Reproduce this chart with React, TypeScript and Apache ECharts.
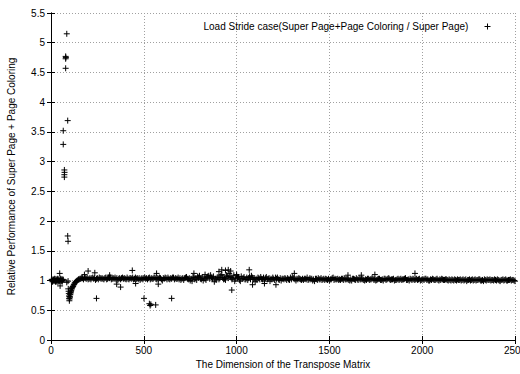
import React, { useEffect, useRef } from "react";
import * as echarts from "echarts";

const seriesName = "Load Stride case(Super Page+Page Coloring / Super Page)";
const xTitle = "The Dimension of the Transpose Matrix";
const yTitle = "Relative Performance of Super Page + Page Coloring";

const xTicks = [0, 500, 1000, 1500, 2000, 2500];
const yTicks = [0, 0.5, 1, 1.5, 2, 2.5, 3, 3.5, 4, 4.5, 5, 5.5];

// small matrices: cluster around 1
const startCluster: [number, number][] = [
  [2, 1.0], [4, 1.02], [6, 1.01], [8, 0.98], [10, 0.99], [12, 1.02], [14, 1.01], [16, 0.99],
  [18, 1.0], [20, 1.03], [22, 1.02], [24, 0.98], [26, 0.99], [28, 1.02], [30, 1.0], [32, 0.98],
  [34, 1.01], [36, 1.03], [38, 0.98], [40, 1.0], [42, 1.02], [44, 0.99], [46, 1.0], [47, 1.12],
  [49, 0.91], [50, 1.01], [52, 1.03], [54, 0.99], [56, 1.0], [58, 1.02], [60, 0.98], [62, 1.0],
  [64, 1.02], [66, 1.01], [85, 0.97], [92, 0.99],
];

// large ratios for small dimensions
const spikes: [number, number][] = [
  [85, 5.15], [79, 4.77], [80, 4.75], [79, 4.73], [79, 4.57], [90, 3.69],
  [66, 3.52], [66, 3.29], [72, 2.86], [73, 2.82], [72, 2.78], [72, 2.74],
  [90, 1.75], [92, 1.66],
];

// dip after the spikes, recovering towards 1
const dipCurve: [number, number][] = [
  [93, 0.86], [95, 0.82], [96, 0.78], [97, 0.74], [98, 0.7], [99, 0.66], [100, 0.69],
  [101, 0.73], [102, 0.72], [103, 0.77], [104, 0.76], [105, 0.8], [106, 0.79], [108, 0.82],
  [109, 0.83], [111, 0.86], [112, 0.86], [114, 0.88], [116, 0.89], [118, 0.9], [120, 0.91],
  [123, 0.93], [125, 0.94], [128, 0.96], [131, 0.97], [134, 0.98], [138, 0.99], [141, 1.0],
  [145, 1.01], [148, 1.02], [152, 1.02], [156, 1.03],
];

// dense band, sampled every 10 from 160 to 2500
const bandStart = 160;
const bandStep = 10;
const bandValues = [
  1.03, 1.04, 1.05, 1.03, 1.02, 1.04, 1.04, 1.03, 1.01, 1.04,
  1.05, 1.03, 1.03, 1.04, 1.02, 1.05, 1.05, 1.03, 1.03, 1.02,
  1.01, 1.04, 1.04, 1.03, 1.03, 1.05, 1.02, 1.04, 1.05, 1.03,
  1.03, 1.02, 1.01, 1.04, 1.04, 1.03, 1.02, 1.05, 1.04, 1.03,
  1.05, 1.02, 1.03, 1.04, 1.0, 1.03, 1.04, 1.05, 1.02, 1.03,
  1.05, 1.04, 1.03, 1.02, 1.01, 1.04, 1.04, 1.06, 1.02, 1.0,
  0.99, 1.05, 1.04, 1.07, 1.08, 1.02, 1.0, 1.03, 1.05, 1.08,
  1.09, 1.03, 0.98, 1.01, 1.06, 1.04, 1.1, 1.02, 1.01, 1.07,
  1.12, 1.05, 1.04, 0.99, 1.08, 1.06, 0.99, 1.03, 1.06, 1.02,
  1.01, 1.07, 1.08, 1.02, 0.98, 1.01, 1.04, 1.06, 1.02, 0.99,
  1.06, 1.03, 0.99, 1.02, 1.03, 1.05, 1.05, 1.01, 1.0, 1.03,
  1.04, 1.01, 1.02, 1.05, 1.06, 1.03, 1.0, 1.02, 1.03, 1.01,
  1.01, 1.03, 1.05, 1.02, 1.02, 1.0, 0.99, 1.03, 1.04, 1.02,
  1.01, 1.03, 1.03, 1.01, 1.0, 1.02, 1.05, 1.03, 1.02, 1.01,
  1.01, 1.03, 1.04, 1.02, 1.02, 1.0, 1.0, 1.03, 1.01, 1.02,
  1.04, 1.02, 1.02, 1.0, 1.01, 1.03, 1.02, 1.04, 1.01, 1.0,
  1.02, 1.03, 1.01, 1.0, 1.03, 1.02, 1.04, 1.01, 1.02, 1.0,
  1.01, 1.03, 1.02, 1.01, 1.02, 1.04, 1.01, 1.0, 1.02, 1.03,
  1.01, 1.03, 1.02, 1.0, 1.02, 1.01, 1.03, 1.02, 1.0, 1.01,
  1.02, 1.01, 1.03, 1.0, 1.01, 1.02, 1.01, 1.02, 1.0, 1.01,
  1.02, 1.0, 1.01, 1.02, 1.01, 1.0, 1.02, 1.01, 0.99, 1.01,
  1.0, 1.02, 1.01, 1.0, 1.01, 1.02, 1.0, 0.99, 1.01, 1.02,
  1.01, 1.0, 1.01, 1.02, 1.0, 1.01, 0.99, 1.01, 1.0, 1.02,
  1.0, 1.01, 1.0, 1.01, 0.99,
];

// second set of samples, every 10 from 165 to 2495
const bandStartB = 165;
const bandValuesB = [
  1.04, 1.02, 1.04, 1.05, 1.03, 1.02, 1.05, 1.04, 1.03, 1.02,
  1.04, 1.04, 1.02, 1.05, 1.03, 1.04, 1.02, 1.04, 1.05, 1.04,
  1.03, 1.02, 1.05, 1.04, 1.02, 1.03, 1.04, 1.03, 1.02, 1.05,
  1.04, 1.04, 1.03, 1.02, 1.05, 1.04, 1.04, 1.02, 1.03, 1.05,
  1.03, 1.04, 1.05, 1.02, 1.04, 1.05, 1.02, 1.03, 1.04, 1.05,
  1.02, 1.03, 1.05, 1.04, 1.03, 1.01, 1.05, 1.03, 1.04, 1.03,
  1.06, 1.02, 1.01, 1.05, 1.03, 1.06, 1.04, 1.01, 1.07, 1.03,
  1.05, 1.07, 1.03, 1.05, 1.02, 1.08, 1.05, 1.03, 1.09, 1.04,
  1.07, 1.02, 1.09, 1.03, 1.05, 1.01, 1.07, 1.04, 1.02, 1.05,
  1.04, 1.02, 1.05, 1.04, 1.03, 1.05, 1.02, 1.03, 1.05, 1.04,
  1.02, 1.04, 1.03, 1.05, 1.01, 1.03, 1.02, 1.04, 1.03, 1.02,
  1.03, 1.04, 1.01, 1.02, 1.04, 1.02, 1.03, 1.04, 1.02, 1.03,
  1.03, 1.02, 1.01, 1.04, 1.03, 1.02, 1.03, 1.01, 1.02, 1.04,
  1.02, 1.01, 1.02, 1.03, 1.02, 1.04, 1.01, 1.02, 1.03, 1.02,
  1.03, 1.01, 1.02, 1.03, 1.01, 1.02, 1.03, 1.02, 1.04, 1.01,
  1.02, 1.03, 1.01, 1.02, 1.03, 1.01, 1.02, 1.03, 1.02, 1.01,
  1.03, 1.01, 1.02, 1.03, 1.01, 1.03, 1.02, 1.02, 1.03, 1.01,
  1.02, 1.01, 1.03, 1.02, 1.03, 1.01, 1.02, 1.03, 1.01, 1.02,
  1.02, 1.01, 1.03, 1.01, 1.02, 1.03, 1.01, 1.0, 1.02, 1.03,
  1.01, 1.02, 1.01, 1.02, 1.03, 1.01, 1.02, 1.01, 1.02, 1.0,
  1.01, 1.02, 1.0, 1.01, 1.02, 1.01, 1.0, 1.02, 1.01, 1.02,
  1.01, 1.0, 1.02, 1.01, 1.02, 1.0, 1.01, 1.02, 1.0, 1.01,
  1.02, 1.01, 1.0, 1.01, 1.02, 1.0, 1.01, 1.02, 1.01, 1.0,
  1.01, 1.02, 1.01, 1.0,
];

// scattered outliers
const outliers: [number, number][] = [
  [180, 1.1], [200, 1.16], [236, 1.13], [245, 0.7], [316, 1.09], [354, 0.94],
  [375, 0.89], [438, 1.17], [456, 0.95], [501, 0.7], [530, 0.61], [534, 0.58],
  [538, 0.6], [564, 0.59], [569, 1.12], [578, 0.94], [650, 0.7], [770, 1.12],
  [830, 1.1], [905, 1.15], [920, 1.18], [940, 1.17], [955, 1.18], [968, 1.16],
  [974, 0.84], [1000, 1.1], [1068, 1.18], [1086, 0.93], [1150, 0.95], [1212, 0.93],
  [1311, 1.12], [1600, 1.09], [1672, 1.09], [1745, 1.1], [1961, 1.12],
];

const plusSymbol = "path://M0,5L10,5M5,0L5,10";
const font = "'Liberation Sans', Arial, Helvetica, sans-serif";

export default function App() {
  const ref = useRef<HTMLDivElement>(null);
  useEffect(() => {
    if (!ref.current) return;
    const chart = echarts.init(ref.current, null, { renderer: "svg" });
    const band = bandValues.map((v, i) => [bandStart + i * bandStep, v]);
    const bandB = bandValuesB.map((v, i) => [bandStartB + i * bandStep, v]);
    const data = [...startCluster, ...spikes, ...dipCurve, ...band, ...bandB, ...outliers];
    const gridLine = { show: true, lineStyle: { color: "#a0a0a0", type: [1, 2] as any, width: 1 } };
    const axisLine = { show: true, lineStyle: { color: "#000", width: 1 } };
    const tick = { show: true, inside: true, length: 4, lineStyle: { color: "#000" } };
    chart.setOption({
      animation: false,
      textStyle: { fontFamily: font },
      grid: { left: 51, right: 5, top: 13, bottom: 34, containLabel: false, outerBoundsMode: "none" },
      legend: {
        show: true,
        data: [seriesName],
        top: 16,
        right: 22,
        align: "right",
        itemWidth: 6,
        itemHeight: 6,
        itemStyle: { color: "none", borderColor: "#000", borderWidth: 1 },
        formatter: (n: string) => n + "    ",
        textStyle: { fontSize: 10, color: "#000", fontFamily: font },
      },
      xAxis: [
        {
          type: "value",
          min: xTicks[0],
          max: xTicks[xTicks.length - 1],
          interval: 500,
          name: xTitle,
          nameLocation: "middle",
          nameGap: 16,
          nameTextStyle: { fontSize: 10, color: "#000", fontFamily: font },
          axisLine,
          axisTick: tick,
          axisLabel: {
            fontSize: 10,
            color: "#000",
            margin: 5,
            fontFamily: font,
            formatter: (v: number) => String(v),
          },
          splitLine: gridLine,
        },
        {
          type: "value",
          position: "top",
          min: xTicks[0],
          max: xTicks[xTicks.length - 1],
          interval: 500,
          axisLine,
          axisTick: tick,
          axisLabel: { show: false },
          splitLine: { show: false },
        },
      ],
      yAxis: [
        {
          type: "value",
          min: yTicks[0],
          max: yTicks[yTicks.length - 1],
          interval: 0.5,
          name: yTitle,
          nameLocation: "middle",
          nameGap: 35,
          nameTextStyle: { fontSize: 10, color: "#000", fontFamily: font },
          axisLine,
          axisTick: tick,
          axisLabel: {
            fontSize: 10,
            color: "#000",
            margin: 6,
            fontFamily: font,
            formatter: (v: number) => String(v),
          },
          splitLine: gridLine,
        },
        {
          type: "value",
          position: "right",
          min: yTicks[0],
          max: yTicks[yTicks.length - 1],
          interval: 0.5,
          axisLine,
          axisTick: tick,
          axisLabel: { show: false },
          splitLine: { show: false },
        },
      ],
      series: [
        {
          type: "scatter",
          name: seriesName,
          data,
          symbol: plusSymbol,
          symbolSize: 6,
          itemStyle: { color: "none", borderColor: "#000", borderWidth: 1, opacity: 1 },
          emphasis: { disabled: true },
        },
      ],
    });
    return () => chart.dispose();
  }, []);
  return (
    <div
      ref={ref}
      style={{ position: "fixed", left: 0, top: 0, width: 520, height: 374, background: "#fff" }}
    />
  );
}
